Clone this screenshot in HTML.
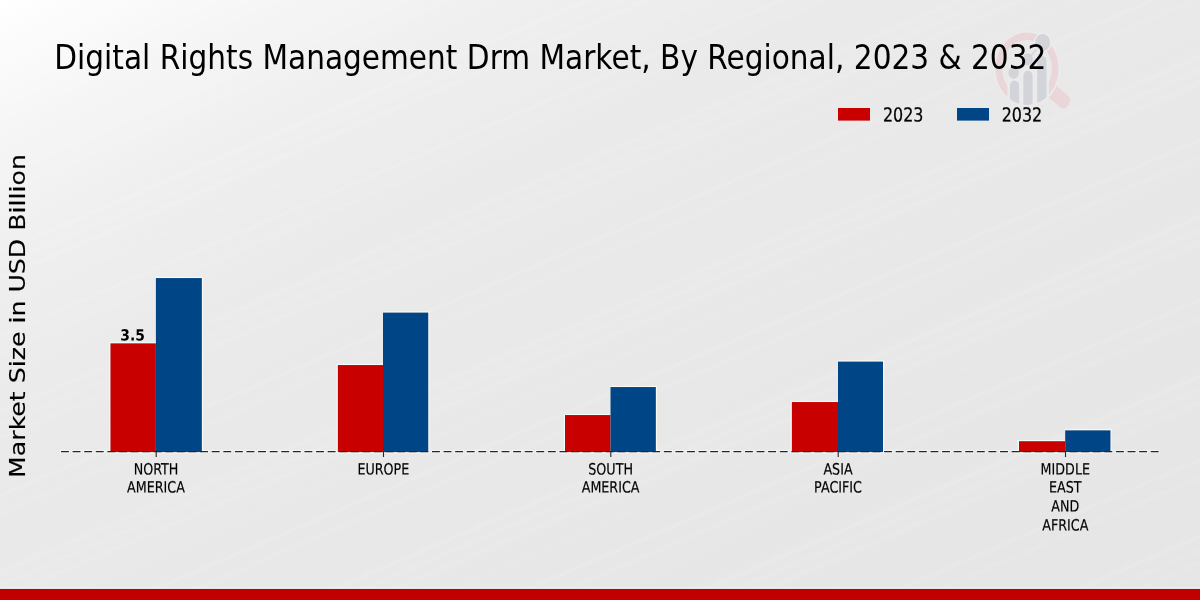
<!DOCTYPE html>
<html lang="en">
<head>
<meta charset="utf-8">
<title>Digital Rights Management Drm Market, By Regional, 2023 &amp; 2032</title>
<style>
html,body{margin:0;padding:0;width:1200px;height:600px;overflow:hidden;background:#e8e8e8;}
svg{display:block;position:absolute;left:0;top:0;}
text{font-family:"DejaVu Sans","Liberation Sans",sans-serif;fill:#000;font-stretch:normal;}
.tick text{font-size:15.6px;text-anchor:middle;stroke:#000;stroke-width:0.18px;}
</style>
</head>
<body>
<svg width="1200" height="600" viewBox="0 0 1200 600">
  <defs>
    <linearGradient id="bg" x1="0" y1="0" x2="1" y2="1">
      <stop offset="0" stop-color="#ffffff"/>
      <stop offset="0.08" stop-color="#f8f8f8"/>
      <stop offset="0.2" stop-color="#f0f0f0"/>
      <stop offset="0.35" stop-color="#eaeaea"/>
      <stop offset="0.6" stop-color="#e8e8e8"/>
      <stop offset="1" stop-color="#e5e5e5"/>
    </linearGradient>
    <linearGradient id="streak" gradientUnits="userSpaceOnUse" x1="0" y1="0" x2="58" y2="135" spreadMethod="repeat">
      <stop offset="0.000" stop-color="#fff" stop-opacity="0.000"/>
      <stop offset="0.080" stop-color="#fff" stop-opacity="0.000"/>
      <stop offset="0.094" stop-color="#fff" stop-opacity="0.088"/>
      <stop offset="0.106" stop-color="#fff" stop-opacity="0.088"/>
      <stop offset="0.120" stop-color="#fff" stop-opacity="0.000"/>
      <stop offset="0.185" stop-color="#fff" stop-opacity="0.000"/>
      <stop offset="0.202" stop-color="#fff" stop-opacity="0.066"/>
      <stop offset="0.217" stop-color="#fff" stop-opacity="0.066"/>
      <stop offset="0.235" stop-color="#fff" stop-opacity="0.000"/>
      <stop offset="0.500" stop-color="#fff" stop-opacity="0.000"/>
      <stop offset="0.540" stop-color="#fff" stop-opacity="0.028"/>
      <stop offset="0.560" stop-color="#fff" stop-opacity="0.028"/>
      <stop offset="0.574" stop-color="#fff" stop-opacity="0.110"/>
      <stop offset="0.586" stop-color="#fff" stop-opacity="0.110"/>
      <stop offset="0.600" stop-color="#fff" stop-opacity="0.028"/>
      <stop offset="0.635" stop-color="#fff" stop-opacity="0.028"/>
      <stop offset="0.653" stop-color="#fff" stop-opacity="0.088"/>
      <stop offset="0.667" stop-color="#fff" stop-opacity="0.088"/>
      <stop offset="0.685" stop-color="#fff" stop-opacity="0.028"/>
      <stop offset="0.722" stop-color="#fff" stop-opacity="0.028"/>
      <stop offset="0.735" stop-color="#fff" stop-opacity="0.099"/>
      <stop offset="0.745" stop-color="#fff" stop-opacity="0.099"/>
      <stop offset="0.758" stop-color="#fff" stop-opacity="0.028"/>
      <stop offset="0.780" stop-color="#fff" stop-opacity="0.028"/>
      <stop offset="0.820" stop-color="#fff" stop-opacity="0.000"/>
      <stop offset="0.885" stop-color="#fff" stop-opacity="0.000"/>
      <stop offset="0.896" stop-color="#fff" stop-opacity="0.055"/>
      <stop offset="0.904" stop-color="#fff" stop-opacity="0.055"/>
      <stop offset="0.915" stop-color="#fff" stop-opacity="0.000"/>
      <stop offset="1.000" stop-color="#fff" stop-opacity="0.000"/>
    </linearGradient>
  </defs>
  <rect x="0" y="0" width="1200" height="600" fill="url(#bg)"/>
  <rect x="0" y="0" width="1200" height="600" fill="url(#streak)"/>

  <!-- watermark logo -->
  <g id="logo" transform="translate(1027,68.5) scale(0.875,1)">
    <clipPath id="lc"><circle cx="0" cy="0" r="36.4"/></clipPath>
    <rect x="33" y="-7.3" width="26.4" height="14.6" rx="5.4" fill="#ead6d8" transform="rotate(38)"/>
    <circle cx="0" cy="0" r="37.1" fill="none" stroke="#ebebeb" stroke-width="2"/>
    <circle cx="0" cy="0" r="32.25" fill="none" stroke="#ead6d8" stroke-width="7.5"/>
    <g clip-path="url(#lc)">
      <g fill="#ebebeb" stroke="#ebebeb" stroke-width="5.6">
        <path d="M-19.6 40V17.3a5.3 5.3 0 0 1 10.6 0V40Z"/>
        <path d="M-4.2 40V7.3a5.3 5.3 0 0 1 10.6 0V40Z"/>
        <path d="M11.7 40V-7.5a5.3 5.3 0 0 1 10.6 0V40Z"/>
      </g>
      <g fill="#d3d4d9">
        <path d="M-19.6 40V17.3a5.3 5.3 0 0 1 10.6 0V40Z"/>
        <path d="M-4.2 40V7.3a5.3 5.3 0 0 1 10.6 0V40Z"/>
        <path d="M11.7 40V-7.5a5.3 5.3 0 0 1 10.6 0V40Z"/>
      </g>
    </g>
    <path d="M-15 4.2L0.7 -9.3L17.9 -26" fill="none" stroke="#d8d9dd" stroke-width="1.9"/>
    <ellipse cx="-15.2" cy="4.2" rx="6" ry="6" fill="#d3d4d9"/>
    <ellipse cx="0.7" cy="-9.3" rx="6" ry="6" fill="#d3d4d9"/>
    <ellipse cx="17.9" cy="-26" rx="9.4" ry="9.2" fill="#d3d4d9" stroke="#ececec" stroke-width="1.6"/>
  </g>

  <!-- title -->
  <text transform="translate(54.3,68.7) scale(0.8735,1)" font-size="33.9">Digital Rights Management Drm Market, By Regional, 2023 &amp; 2032</text>

  <!-- legend -->
  <rect x="838" y="108" width="32" height="12.6" fill="#c80000"/>
  <text transform="translate(882.9,121.4) matrix(0.826,0.0005,0,1,0,0)" font-size="19.3" stroke="#000" stroke-width="0.25">2023</text>
  <rect x="957" y="108" width="32" height="12.6" fill="#004586"/>
  <text transform="translate(1001.7,121.4) matrix(0.826,0.0005,0,1,0,0)" font-size="19.3" stroke="#000" stroke-width="0.25">2032</text>

  <!-- y label -->
  <text font-size="25.2" text-anchor="middle" stroke="#000" stroke-width="0.15" transform="translate(24.9,316.0) rotate(-90) scale(1,0.87)">Market Size in USD Billion</text>

  <!-- bars -->
  <line x1="60" y1="451.55" x2="1159.6" y2="451.55" stroke="#fbfdfd" stroke-opacity="0.55" stroke-width="3.3" stroke-dasharray="9.9 1.693"/>
  <g fill="#f0ffff" opacity="0.9">
    <rect x="109.25" y="342.15" width="46.65" height="111.15"/>
    <rect x="336.65" y="363.85" width="46.35" height="89.45"/>
    <rect x="563.80" y="413.85" width="46.70" height="39.45"/>
    <rect x="790.65" y="400.85" width="47.35" height="52.45"/>
    <rect x="1017.80" y="440.00" width="47.40" height="13.30"/>
  </g>
  <g fill="#fffaf2" opacity="0.9">
    <rect x="155.90" y="276.85" width="47.15" height="176.45"/>
    <rect x="383.00" y="311.40" width="46.45" height="141.90"/>
    <rect x="610.50" y="385.85" width="46.55" height="67.45"/>
    <rect x="838.00" y="360.40" width="46.20" height="92.90"/>
    <rect x="1065.20" y="429.15" width="46.45" height="24.15"/>
  </g>
  <g fill="#c80000">
    <rect x="110.45" y="343.35" width="45.45" height="108.75"/>
    <rect x="337.85" y="365.05" width="45.15" height="87.05"/>
    <rect x="565.00" y="415.05" width="45.50" height="37.05"/>
    <rect x="791.85" y="402.05" width="46.15" height="50.05"/>
    <rect x="1019.00" y="441.20" width="46.20" height="10.90"/>
  </g>
  <g fill="#004586">
    <rect x="155.90" y="278.05" width="45.95" height="174.05"/>
    <rect x="383.00" y="312.60" width="45.25" height="139.50"/>
    <rect x="610.50" y="387.05" width="45.35" height="65.05"/>
    <rect x="838.00" y="361.60" width="45.00" height="90.50"/>
    <rect x="1065.20" y="430.35" width="45.25" height="21.75"/>
  </g>

  <!-- value label -->
  <text transform="translate(132.6,340.6) matrix(0.9,0.0005,0,1,0,0)" font-size="15.4" font-weight="bold" text-anchor="middle">3.5</text>

  <!-- axis line -->
  <line x1="61" y1="451.55" x2="1158.6" y2="451.55" stroke="#262626" stroke-width="1.15" stroke-dasharray="7.9 3.693"/>
  <g stroke="#262626" stroke-width="1.1">
    <line x1="156.20" y1="451.6" x2="156.20" y2="457"/>
    <line x1="383.50" y1="451.6" x2="383.50" y2="457"/>
    <line x1="610.80" y1="451.6" x2="610.80" y2="457"/>
    <line x1="838.20" y1="451.6" x2="838.20" y2="457"/>
    <line x1="1065.50" y1="451.6" x2="1065.50" y2="457"/>
  </g>

  <!-- tick labels -->
  <g class="tick">
    <text transform="translate(156.0,474.45) matrix(0.815,0.0005,0,1,0,0)">NORTH</text>
    <text transform="translate(156.0,492.45) matrix(0.815,0.0005,0,1,0,0)">AMERICA</text>
    <text transform="translate(383.3,474.45) matrix(0.815,0.0005,0,1,0,0)">EUROPE</text>
    <text transform="translate(610.6,474.45) matrix(0.815,0.0005,0,1,0,0)">SOUTH</text>
    <text transform="translate(610.6,492.45) matrix(0.815,0.0005,0,1,0,0)">AMERICA</text>
    <text transform="translate(838.0,474.45) matrix(0.815,0.0005,0,1,0,0)">ASIA</text>
    <text transform="translate(838.0,492.45) matrix(0.815,0.0005,0,1,0,0)">PACIFIC</text>
    <text transform="translate(1065.3,474.45) matrix(0.815,0.0005,0,1,0,0)">MIDDLE</text>
    <text transform="translate(1065.3,492.45) matrix(0.815,0.0005,0,1,0,0)">EAST</text>
    <text transform="translate(1065.3,511.45) matrix(0.815,0.0005,0,1,0,0)">AND</text>
    <text transform="translate(1065.3,530.4) matrix(0.815,0.0005,0,1,0,0)">AFRICA</text>
  </g>

  <!-- bottom bar -->
  <rect x="0" y="587.7" width="1200" height="1.3" fill="#f0ffff" opacity="0.9"/>
  <rect x="0" y="588.9" width="1200" height="11.1" fill="#c00000"/>
</svg>
</body>
</html>
